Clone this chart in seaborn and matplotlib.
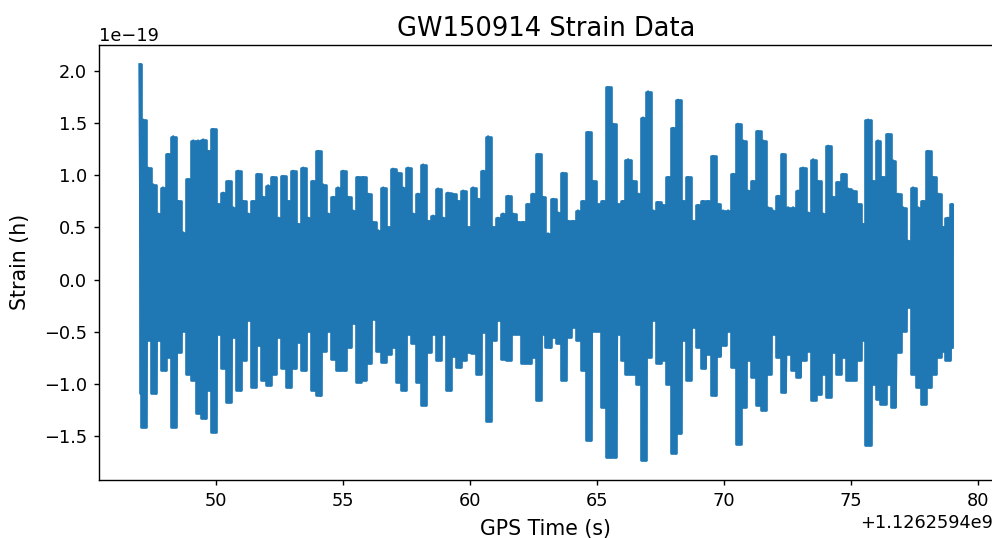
import numpy as np
import pandas as pd
import matplotlib
matplotlib.use("Agg")
import matplotlib.pyplot as plt
import seaborn as sns

# GPS offset shown by the axis formatter
GPS_BASE = 1126259400.0

# sample times (s, relative to GPS_BASE) at which the envelope was read
times = [
    47.00, 47.14, 47.33, 47.53, 47.73, 47.92, 48.12, 48.32, 48.52, 48.71,
    48.91, 49.11, 49.30, 49.50, 49.70, 49.89, 50.09, 50.29, 50.49, 50.68,
    50.88, 51.08, 51.27, 51.47, 51.66, 51.86, 52.06, 52.25, 52.45, 52.65,
    52.85, 53.04, 53.24, 53.44, 53.63, 53.83, 54.03, 54.22, 54.42, 54.62,
    54.81, 55.01, 55.21, 55.40, 55.60, 55.80, 55.99, 56.19, 56.39, 56.59,
    56.78, 56.98, 57.18, 57.37, 57.57, 57.77, 57.96, 58.16, 58.36, 58.55,
    58.75, 58.95, 59.14, 59.34, 59.54, 59.74, 59.93, 60.13, 60.33, 60.52,
    60.72, 60.92, 61.11, 61.31, 61.51, 61.70, 61.90, 62.10, 62.29, 62.49,
    62.69, 62.88, 63.08, 63.28, 63.48, 63.67, 63.87, 64.07, 64.26, 64.46,
    64.66, 64.85, 65.05, 65.25, 65.44, 65.64, 65.84, 66.03, 66.23, 66.43,
    66.63, 66.82, 67.02, 67.22, 67.41, 67.61, 67.81, 68.00, 68.20, 68.40,
    68.59, 68.79, 68.99, 69.18, 69.38, 69.58, 69.77, 69.97, 70.17, 70.37,
    70.56, 70.76, 70.96, 71.15, 71.35, 71.55, 71.74, 71.94, 72.14, 72.33,
    72.53, 72.73, 72.92, 73.12, 73.32, 73.52, 73.71, 73.91, 74.11, 74.30,
    74.50, 74.70, 74.89, 75.09, 75.29, 75.48, 75.68, 75.88, 76.07, 76.27,
    76.47, 76.66, 76.86, 77.06, 77.26, 77.45, 77.65, 77.85, 78.04, 78.24,
    78.44, 78.63, 78.83, 79.00,
]

# upper envelope of the strain (units of 1e-19)
strain_upper = [
    2.06, 1.53, 1.07, 0.91, 0.63, 0.88, 1.20, 1.37, 0.75, 0.45, 0.96, 1.33, 1.33, 1.34, 1.23, 1.44, 0.72, 0.83, 0.94, 0.69, 1.04, 0.75,
    0.63, 0.75, 1.01, 0.79, 0.90, 0.98, 0.59, 0.99, 0.75, 1.04, 0.53, 1.07, 0.59, 0.94, 1.23, 0.91, 0.63, 0.79, 0.88, 1.04, 0.79, 0.66, 0.98, 0.98, 0.82, 0.55, 0.47, 0.88,
    0.50, 1.06, 1.02, 0.88, 1.07, 0.63, 0.82, 1.10, 0.56, 0.61, 0.87, 0.59, 0.83, 0.82, 0.75, 0.85, 0.50, 0.88, 0.77, 1.04, 1.37, 0.50, 0.59, 0.63, 0.80, 0.63, 0.55, 0.55,
    0.72, 0.82, 1.20, 0.79, 0.44, 0.77, 0.64, 1.02, 0.56, 0.56, 0.66, 0.75, 1.41, 0.94, 0.72, 0.75, 1.84, 1.49, 0.72, 0.75, 1.15, 0.94, 0.82, 1.55, 1.80, 0.66, 0.74, 0.71,
    0.98, 1.45, 1.72, 0.75, 0.98, 0.56, 0.71, 0.75, 0.75, 1.18, 0.72, 0.66, 0.66, 1.01, 1.49, 1.33, 0.85, 0.94, 1.42, 1.33, 0.69, 0.66, 0.80, 1.20, 0.69, 0.69, 0.85, 1.07,
    0.64, 1.15, 0.94, 0.63, 1.28, 0.79, 0.93, 1.01, 0.87, 0.85, 0.72, 0.53, 1.53, 0.94, 1.33, 0.98, 1.39, 1.14, 0.82, 0.69, 0.37, 0.88, 0.69, 0.75, 1.23, 0.98, 0.82, 0.50, 0.59, 0.72,
]

# lower envelope of the strain (units of 1e-19)
strain_lower = [
    -1.09, -1.41, -0.58, -1.09, -0.58, -0.87, -0.74, -1.41, -0.69, -0.49, -0.90, -0.96, -1.28, -1.33, -1.06, -1.46, -0.52, -0.85, -1.17, -0.55, -1.06, -0.77,
    -0.39, -1.03, -0.63, -0.96, -1.01, -0.90, -0.55, -0.85, -1.03, -0.85, -0.60, -0.87, -0.49, -1.06, -1.11, -0.68, -0.49, -0.76, -0.87, -0.87, -0.65, -0.42, -0.98, -0.96, -0.80, -0.38, -0.68, -0.79,
    -0.71, -0.65, -0.98, -1.06, -0.52, -0.61, -0.98, -1.20, -0.69, -0.52, -0.77, -0.52, -1.06, -0.73, -0.84, -0.77, -0.69, -0.70, -0.90, -0.50, -1.35, -0.58, -0.39, -0.76, -0.77, -0.52, -0.52, -0.80,
    -0.80, -0.74, -1.15, -0.52, -0.65, -0.55, -0.61, -0.96, -0.55, -0.45, -0.58, -0.87, -1.54, -0.49, -0.49, -1.22, -1.70, -1.70, -0.52, -0.77, -0.90, -0.90, -1.00, -1.73, -0.74, -0.39, -0.80, -0.77,
    -1.00, -1.66, -1.47, -0.58, -0.96, -0.45, -0.65, -0.85, -0.71, -1.11, -0.73, -0.63, -0.49, -0.84, -1.57, -1.22, -0.77, -0.93, -1.20, -1.25, -0.90, -0.52, -0.74, -1.08, -0.71, -0.87, -0.93, -0.77,
    -0.68, -1.15, -1.10, -0.90, -1.12, -0.69, -0.90, -0.74, -0.96, -0.96, -0.77, -0.58, -1.58, -1.00, -1.14, -1.19, -1.00, -1.22, -0.69, -0.49, -0.26, -0.90, -1.03, -1.19, -1.03, -0.90, -0.74, -0.68, -0.77, -0.65,
]

title = "GW150914 Strain Data"
xlabel = "GPS Time (s)"
ylabel = "Strain (h)"

COLOR = "#1f77b4"
SCALE = 1e-19

# Oscillating trace: upper value at each sample time, lower value half-way to the next
t = np.asarray(times)
up = np.asarray(strain_upper) * SCALE
lo = np.asarray(strain_lower) * SCALE
mid = np.append((t[:-1] + t[1:]) / 2.0, t[-1])
xs = np.empty(2 * len(t))
ys = np.empty(2 * len(t))
xs[0::2] = t
xs[1::2] = mid
ys[0::2] = up
ys[1::2] = lo
df = pd.DataFrame({"time": GPS_BASE + xs, "strain": ys})

plt.rcParams["font.family"] = ["DejaVu Sans"]
fig = plt.figure(figsize=(9.92, 5.38), dpi=100)
ax = fig.add_axes([0.0998, 0.1078, 0.9012, 0.8091])

# dense body of the signal between the envelopes
ax.fill_between(GPS_BASE + t, lo, up, step="mid", color=COLOR,
                linewidth=1.9, edgecolor=COLOR)
sns.lineplot(data=df, x="time", y="strain", sort=False, estimator=None,
             color=COLOR, linewidth=1.9, ax=ax)

ax.set_title(title, fontsize=18.5, pad=6.5)
ax.set_xlabel(xlabel, fontsize=14.8)
ax.set_ylabel(ylabel, fontsize=14.8)
ax.xaxis.set_label_coords(0.5, -0.09)
ax.yaxis.set_label_coords(-0.077, 0.5)
ax.tick_params(axis="both", labelsize=12.8, length=3.6, width=1.0, pad=5.0)
ax.xaxis.get_offset_text().set_fontsize(12.8)
ax.yaxis.get_offset_text().set_fontsize(12.8)
for s in ax.spines.values():
    s.set_linewidth(1.0)
ax.set_xticks(GPS_BASE + np.array([50, 55, 60, 65, 70, 75, 80]))

fig.savefig("out.png", dpi=100)
